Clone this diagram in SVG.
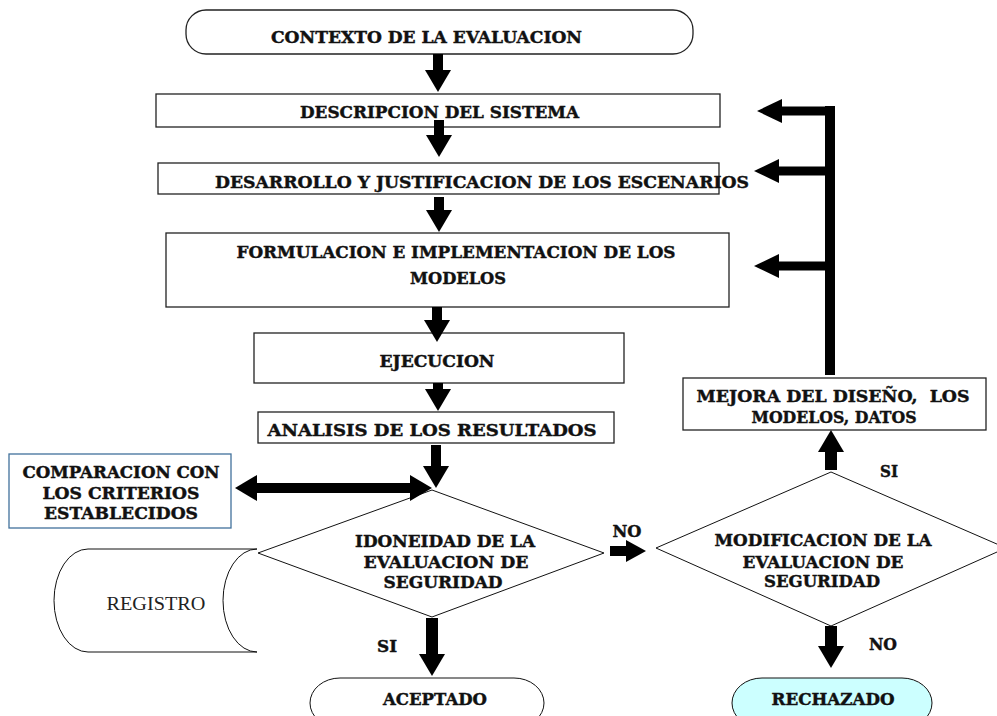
<svg xmlns="http://www.w3.org/2000/svg" width="997" height="716" viewBox="0 0 997 716">
<style>
.box{fill:#fff;stroke:#222;stroke-width:1.3}
.dia{fill:#fff;stroke:#111;stroke-width:1}
.t{font-family:"DejaVu Serif","Liberation Serif",serif;font-weight:bold;font-size:17.5px;fill:#111;stroke:#111;stroke-width:0.45;text-anchor:middle}
.r{font-family:"Liberation Serif","Times New Roman",serif;font-size:19px;fill:#222;text-anchor:middle}
.c{stroke:#000;fill:none}
.w10{stroke-width:10}
.w9{stroke-width:9}
.w12{stroke-width:12}
</style>
<defs>
<marker id="ah" markerUnits="userSpaceOnUse" markerWidth="22" markerHeight="26" refX="0" refY="13" orient="auto-start-reverse" viewBox="0 0 22 26"><path d="M0,0 L22,13 L0,26 Z" fill="#000"/></marker>
<marker id="ahb" markerUnits="userSpaceOnUse" markerWidth="25" markerHeight="24" refX="0" refY="12" orient="auto-start-reverse" viewBox="0 0 25 24"><path d="M0,0 L25,12 L0,24 Z" fill="#000"/></marker>
<marker id="ahs" markerUnits="userSpaceOnUse" markerWidth="20" markerHeight="22" refX="0" refY="11" orient="auto-start-reverse" viewBox="0 0 20 22"><path d="M0,0 L20,11 L0,22 Z" fill="#000"/></marker>
</defs>

<g id="n-contexto">
<rect class="box" x="186" y="10" width="507" height="44" rx="20" ry="20"/>
<text class="t" x="426.5" y="43" textLength="311" lengthAdjust="spacingAndGlyphs">CONTEXTO DE LA EVALUACION</text>
</g>
<g id="n-descripcion">
<rect class="box" x="156" y="94" width="564" height="33"/>
<text class="t" x="439.5" y="118" textLength="279" lengthAdjust="spacingAndGlyphs">DESCRIPCION DEL SISTEMA</text>
</g>
<g id="n-desarrollo">
<rect class="box" x="158" y="163" width="561" height="31"/>
<text class="t" x="482" y="188" textLength="534" lengthAdjust="spacingAndGlyphs">DESARROLLO Y JUSTIFICACION DE LOS ESCENARIOS</text>
</g>
<g id="n-formulacion">
<rect class="box" x="166" y="233" width="563" height="74"/>
<text class="t" x="456" y="258" textLength="439" lengthAdjust="spacingAndGlyphs">FORMULACION E IMPLEMENTACION DE LOS</text>
<text class="t" x="458" y="284" textLength="96" lengthAdjust="spacingAndGlyphs">MODELOS</text>
</g>
<g id="n-ejecucion">
<rect class="box" x="254" y="333" width="370" height="50"/>
<text class="t" x="437" y="367" textLength="115" lengthAdjust="spacingAndGlyphs">EJECUCION</text>
</g>
<g id="n-analisis">
<rect class="box" x="258" y="412" width="356" height="31"/>
<text class="t" x="432" y="436" textLength="329" lengthAdjust="spacingAndGlyphs">ANALISIS DE LOS RESULTADOS</text>
</g>
<g id="n-comparacion">
<rect x="9" y="454" width="222" height="74" fill="#fff" stroke="#41719c" stroke-width="1.3"/>
<text class="t" x="121" y="478" textLength="197" lengthAdjust="spacingAndGlyphs">COMPARACION CON</text>
<text class="t" x="121" y="499" textLength="157" lengthAdjust="spacingAndGlyphs">LOS CRITERIOS</text>
<text class="t" x="121" y="519" textLength="154" lengthAdjust="spacingAndGlyphs">ESTABLECIDOS</text>
</g>
<g id="n-registro">
<path class="dia" d="M88,549 L257,549 A34,51.5 0 0 0 257,652 L88,652 A34,51.5 0 0 1 88,549 Z"/>
<text class="r" x="156" y="610" textLength="99" lengthAdjust="spacingAndGlyphs">REGISTRO</text>
</g>
<g id="n-idoneidad">
<polygon class="dia" points="432,490 604,553 432,617 258,553"/>
<text class="t" x="445" y="547" textLength="180" lengthAdjust="spacingAndGlyphs">IDONEIDAD DE LA</text>
<text class="t" x="446" y="568" textLength="165" lengthAdjust="spacingAndGlyphs">EVALUACION DE</text>
<text class="t" x="443" y="588" textLength="119" lengthAdjust="spacingAndGlyphs">SEGURIDAD</text>
</g>
<g id="n-aceptado">
<rect class="dia" x="310" y="678" width="234" height="50" rx="30" ry="25"/>
<text class="t" x="435" y="705" textLength="104" lengthAdjust="spacingAndGlyphs">ACEPTADO</text>
</g>
<g id="n-modificacion">
<polygon class="dia" points="831,472 1006,548 831,626 656,548"/>
<text class="t" x="823" y="546" textLength="217" lengthAdjust="spacingAndGlyphs">MODIFICACION DE LA</text>
<text class="t" x="823" y="568" textLength="161" lengthAdjust="spacingAndGlyphs">EVALUACION DE</text>
<text class="t" x="822" y="587" textLength="116" lengthAdjust="spacingAndGlyphs">SEGURIDAD</text>
</g>
<g id="n-rechazado">
<rect x="732" y="678" width="200" height="50" rx="30" ry="25" fill="#ccffff" stroke="#111" stroke-width="1"/>
<text class="t" x="833" y="705" textLength="123" lengthAdjust="spacingAndGlyphs">RECHAZADO</text>
</g>
<g id="n-mejora">
<rect class="box" x="683" y="378" width="303" height="52"/>
<text class="t" x="833" y="402" textLength="273" lengthAdjust="spacingAndGlyphs" xml:space="preserve">MEJORA DEL DISEÑO,  LOS</text>
<text class="t" x="834" y="423" textLength="165" lengthAdjust="spacingAndGlyphs">MODELOS, DATOS</text>
</g>

<g id="connectors">
<line class="c w10" x1="438" y1="54" x2="438" y2="70" marker-end="url(#ah)"/>
<line class="c w10" x1="439" y1="120" x2="439" y2="135" marker-end="url(#ah)"/>
<line class="c w10" x1="439" y1="197" x2="439" y2="210" marker-end="url(#ah)"/>
<line class="c w10" x1="437" y1="307" x2="437" y2="320" marker-end="url(#ah)"/>
<line class="c w10" x1="438" y1="383" x2="438" y2="389" marker-end="url(#ah)"/>
<line class="c w10" x1="436" y1="445" x2="436" y2="466" marker-end="url(#ah)"/>
<line class="c w10" x1="257" y1="488" x2="410" y2="488" marker-start="url(#ah)" marker-end="url(#ah)"/>
<line class="c w12" x1="432" y1="618" x2="432" y2="654" marker-end="url(#ah)"/>
<line class="c w10" x1="610" y1="551" x2="626" y2="551" marker-end="url(#ahs)"/>
<line class="c w12" x1="831" y1="470" x2="831" y2="452" marker-end="url(#ah)"/>
<line class="c w12" x1="831" y1="626" x2="831" y2="646" marker-end="url(#ah)"/>
<line class="c w10" x1="830" y1="375" x2="830" y2="106"/>
<line class="c w9" x1="835" y1="111" x2="782" y2="111" marker-end="url(#ahb)"/>
<line class="c w9" x1="830" y1="171" x2="779" y2="171" marker-end="url(#ahb)"/>
<line class="c w9" x1="830" y1="266" x2="779" y2="266" marker-end="url(#ahb)"/>
<text class="t" x="627" y="537" textLength="29" lengthAdjust="spacingAndGlyphs">NO</text>
<text class="t" x="387" y="652" textLength="20" lengthAdjust="spacingAndGlyphs">SI</text>
<text class="t" x="889" y="477" textLength="18" lengthAdjust="spacingAndGlyphs">SI</text>
<text class="t" x="883" y="650" textLength="28" lengthAdjust="spacingAndGlyphs">NO</text>
</g>
</svg>
